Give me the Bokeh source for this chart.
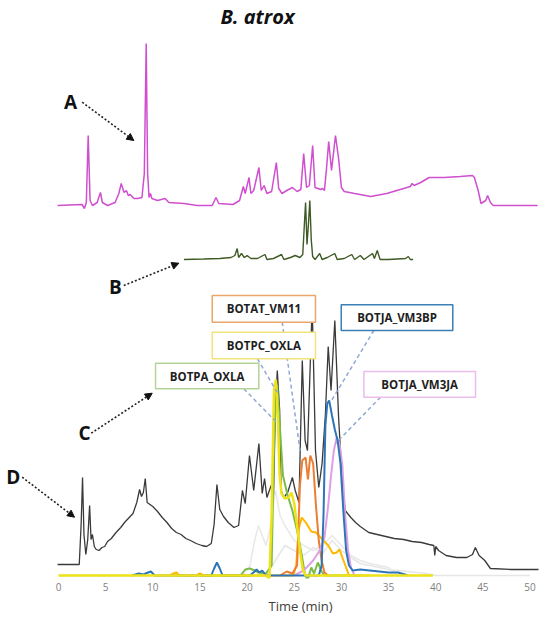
from bokeh.plotting import figure
from bokeh.models import Range1d, FixedTicker, Label, Arrow, NormalHead, ColumnDataSource, Title
from bokeh.core.properties import value
from bokeh.embed import file_html
from bokeh.resources import INLINE

# ---------------- data (time in min, intensity in arbitrary units) ----------------
tick_values = [0, 5, 10, 15, 20, 25, 30, 35, 40, 45, 50]

# A: magenta chromatogram
a_time = [-0.1, 2.5, 2.75, 2.95, 3.15, 3.35, 3.6, 4.1, 4.45, 4.65, 5.2, 6.0, 6.4, 6.65, 6.95, 7.2, 7.4, 7.6, 8.0, 8.4,
          8.85, 9.1, 9.3, 9.45, 9.6, 9.75, 9.9, 10.5, 11.3, 11.7, 13.3, 14.7, 16.3, 16.7, 17.0, 18.5, 19.2, 19.6, 19.8,
          20.2, 20.4, 20.7, 21.25, 21.5, 21.8, 22.1, 22.6, 23.1, 23.35, 23.7, 24.2, 24.8, 25.3, 25.7, 26.0, 26.3, 26.6,
          26.95, 27.2, 27.8, 28.0, 28.2, 28.4, 28.65, 28.95, 29.37, 29.7, 30.0, 30.3, 31.4, 33.1, 34.8, 36.6, 37.3,
          37.5, 37.7, 38.4, 39.3, 40.9, 42.6, 43.9, 44.1, 44.5, 44.8, 45.3, 45.5, 45.8, 46.1, 50.8]
a_int = [0, 1, -3, 3, 70, 5, 0, 3, 13, 3, 0, 3, 12, 22, 13, 15, 10, 11, 7, 7,
         8, 32, 162, 32, 8, 12, 7, 5, 7, 3, 2, 0, 0, 8, 2, 1, 5, 19, 12,
         28, 12, 15, 38, 15, 20, 12, 14, 43, 17, 12, 15, 18, 14, 16, 52, 18, 20,
         60, 18, 16, 17, 15, 35, 64, 35, 70, 47, 18, 14, 12, 9, 12, 17, 19,
         22, 20, 23, 28, 28, 29, 30, 28, 15, 2, 5, 10, 3, 0, 0]

# B: dark green chromatogram
b_time = [13.3, 15.4, 17.1, 18.3, 18.7, 18.95, 19.1, 19.4, 19.7, 20.0, 20.4, 21.1, 21.9, 22.1, 22.8, 23.65, 23.9,
          24.6, 25.1, 25.6, 25.9, 26.1, 26.2, 26.35, 26.5, 26.65, 26.8, 26.95, 27.2, 27.7, 27.95, 28.5, 29.3, 29.55,
          30.3, 31.1, 31.4, 32.0, 32.4, 33.3, 33.5, 33.8, 34.1, 35.0, 36.8, 37.1, 37.3, 37.6]
b_int = [0, 0.5, 1, 2, 4, 11, 2, 6, 2, 4, 1, 1, 5, 0, 1, 5, 0,
         2, 4, 2, 5, 40, 57, 15, 35, 59, 20, 3, 0, 6, 0, 2, 6, 0,
         1, 5, 0, 4, 0, 6, 1, 9, 0, 0, 1, 3, 0, 0]

# D: black chromatogram
d_time = [-0.1, 2.2, 2.4, 2.55, 2.7, 2.9, 3.1, 3.3, 3.45, 3.6, 3.8, 4.0, 4.3, 4.6, 4.9, 5.2, 5.6, 6.1, 6.6, 7.0,
          7.4, 7.9, 8.3, 8.6, 8.8, 9.0, 9.2, 9.4, 9.7, 10.0, 10.5, 11.0, 11.5, 12.0, 12.5, 13.0, 13.5, 14.0, 14.6,
          15.2, 15.7, 16.2, 16.5, 16.8, 17.1, 17.5, 18.0, 18.6, 19.1, 19.5, 19.8, 20.25, 20.7, 21.25, 21.6, 21.85,
          22.1, 22.55, 22.8, 23.0, 23.2, 23.45, 23.6, 23.9, 24.3, 24.8, 25.1, 25.5, 25.85, 26.15, 26.4, 26.9, 27.25,
          27.6, 27.95, 28.3, 28.6, 28.9, 29.3, 29.7, 30.1, 30.4, 31.0, 31.5, 32.0, 32.9, 33.8, 34.7, 35.6, 36.6,
          37.5, 38.5, 39.3, 39.8, 39.9, 40.0, 40.3, 41.1, 42.2, 43.3, 43.9, 44.2, 44.6, 45.2, 45.8, 48.0, 50.9]
d_int = [0, 0, 40, 87, 30, 10, 25, 59, 25, 30, 18, 15, 14, 17, 18, 23, 26, 32, 37, 42,
         46, 51, 62, 75, 68, 72, 86, 62, 60, 58, 53, 47, 42, 36, 32, 30, 26, 24, 21,
         19, 18, 21, 40, 80, 55, 48, 42, 37, 39, 74, 61, 109, 74, 121, 71, 86,
         67, 79, 70, 157, 194, 154, 74, 67, 72, 87, 74, 62, 204, 124, 114, 260, 114,
         77, 101, 150, 218, 174, 244, 147, 81, 54, 47, 42, 38, 32, 30, 28, 26, 25,
         23, 22, 20, 19, 9, 18, 14, 9, 7, 7, 10, 17, 9, 4, -4, -5, -5]

# C: individual protein traces
yellow_time = [0, 22.1, 22.35, 22.6, 22.85, 23.05, 23.25, 23.45, 23.65, 24.0, 24.4, 24.7, 25.0, 25.3, 25.6, 25.9, 26.2, 39.7]
yellow_int = [0, 0, -6, 60, 185, 196, 160, 100, 82, 77, 78, 83, 72, 50, 25, 6, 0, 0]

green_time = [15.0, 19.3, 19.8, 20.3, 20.8, 21.2, 22.0, 22.6, 22.9, 23.2, 23.4, 23.8, 24.3, 24.8, 25.3, 25.8, 26.1,
              26.4, 26.8, 27.1, 27.5, 27.9, 28.2, 32.0]
green_int = [0, 0, 6, 7, 5, 3, 2, 10, 150, 190, 160, 100, 80, 65, 45, 20, 3,
             -5, 8, 2, 13, 4, 0, 0]

orange_time = [23.5, 24.2, 24.8, 25.3, 25.6, 25.85, 26.2, 26.45, 26.7, 27.0, 27.3, 27.6, 27.9, 28.2, 28.6]
orange_int = [0, 4, 2, 10, 90, 115, 118, 96, 120, 112, 70, 35, 15, 3, 0]

gold_time = [11.8, 12.2, 12.5, 12.8, 14.6, 15.0, 15.4, 24.9, 25.2, 25.5, 25.8, 26.3, 26.8, 27.3, 27.9, 28.6, 29.1,
             29.5, 29.8, 30.1, 30.5, 30.8, 33.0]
gold_int = [0, 2, 3, 0, 0, 2, 0, 0, 10, 48, 58, 52, 44, 43, 37, 30, 22,
            23, 26, 18, 8, 0, 0]

blue_time = [7.8, 8.5, 9.0, 9.5, 9.8, 10.2, 16.2, 16.5, 16.8, 17.1, 17.4, 20.3, 20.8, 21.0, 21.3, 21.6, 22.0, 27.6,
             27.9, 28.1, 28.3, 28.5, 28.7, 29.0, 29.3, 29.6, 29.9, 30.2, 30.5, 30.8, 31.2, 32.0, 33.0, 34.0, 35.0,
             36.0, 37.1]
blue_int = [0, 2, 1, 3, 4, 0, 0, 7, 13, 7, 0, 0, 4, 6, 3, 5, 0, 0,
            10, 60, 150, 172, 175, 160, 146, 135, 112, 65, 25, 10, 5, 6, 5, 4, 3,
            3, 0]

pink_time = [25.0, 26.0, 27.0, 27.7, 28.2, 28.6, 28.9, 29.2, 29.5, 29.8, 30.1, 30.4, 30.7, 31.0, 31.4]
pink_int = [0, 5, 15, 25, 38, 70, 100, 125, 138, 132, 110, 60, 25, 8, 0]

faint1_time = [19.5, 20.3, 20.8, 21.2, 21.6, 22.0, 22.4, 23.0, 23.5, 24.0, 25.0, 26.0, 27.0, 28.0, 29.0, 30.0, 31.0,
               32.0, 33.0, 34.0, 35.0, 36.0]
faint1_int = [0, 10, 35, 50, 40, 30, 45, 85, 60, 50, 35, 30, 25, 30, 40, 30, 20,
              15, 12, 10, 8, 0]
faint2_time = [0, 22, 23, 24, 25, 26, 27, 28, 29, 30, 31, 32, 33, 34, 35, 36, 37, 38, 39, 40, 45, 50]
faint2_int = [0, 0, 15, 30, 25, 20, 28, 22, 35, 25, 18, 12, 10, 8, 6, 5, 4, 3, 2, 0, 0, 0]

protein_labels = ["BOTAT_VM11", "BOTPC_OXLA", "BOTPA_OXLA", "BOTJA_VM3BP", "BOTJA_VM3JA"]
panel_letters = ["A", "B", "C", "D"]
title_text = "B. atrox"
x_title = "Time (min)"

# ---------------- layout constants ----------------
OFF_A = 370
OFF_B = 316
OFF_D = 11

p = figure(width=550, height=621, x_range=Range1d(-6.15, 52.17), y_range=Range1d(-3, 575),
           output_backend="svg", toolbar_location=None, title=None, y_axis_location=None,
           min_border_left=0, min_border_right=0, min_border_top=0, min_border_bottom=43)
p.outline_line_color = None
p.grid.visible = False
p.background_fill_color = "white"

ax = p.xaxis[0]
ax.ticker = FixedTicker(ticks=tick_values)
ax.axis_line_color = None
ax.major_tick_line_color = None
ax.minor_tick_line_color = None
ax.major_tick_out = 0
ax.major_tick_in = 0
ax.major_label_standoff = 4
ax.major_label_text_font = "Open Sans"
ax.major_label_text_font_size = "10px"
ax.major_label_text_color = "#808080"

p.add_layout(Title(text=x_title, align="left", offset=268, text_font="Open Sans", text_font_style="normal",
                   text_font_size="13px", text_color="#404040", standoff=2), "below")

# traces
p.line(faint2_time, faint2_int, line_color="#e6e6e6", line_width=1.5)
p.line(faint1_time, faint1_int, line_color="#e8e8e8", line_width=1.5)
p.line(a_time, [v + OFF_A for v in a_int], line_color="#cf4fcf", line_width=1.5)
p.line(b_time, [v + OFF_B for v in b_int], line_color="#3f5a25", line_width=1.4)
p.line(d_time, [v + OFF_D for v in d_int], line_color="#3a3a3a", line_width=1.3)
p.line(gold_time, gold_int, line_color="#ffb800", line_width=2)
p.line(green_time, green_int, line_color="#7cbb4a", line_width=2)
p.line(orange_time, orange_int, line_color="#ed7d31", line_width=2)
p.line(pink_time, pink_int, line_color="#dda0e6", line_width=2)
p.line(blue_time, blue_int, line_color="#2e75b6", line_width=2)
p.line(yellow_time, yellow_int, line_color="#eee21a", line_width=2.5)

# leader lines (dashed)
leaders_x0 = [23.72, 21.10, 19.65, 33.44, 34.15]
leaders_y0 = [253.3, 216.7, 186.7, 245.0, 178.3]
leaders_x1 = [25.66, 23.19, 23.12, 28.95, 29.37]
leaders_y1 = [122.0, 183.0, 153.3, 175.0, 132.0]
p.segment(leaders_x0, leaders_y0, leaders_x1, leaders_y1, line_color="#8fa9d3", line_width=1.5, line_dash="4 3")

# label boxes
box_src = ColumnDataSource(dict(
    left=[16.30, 16.30, 10.29, 29.98, 32.38],
    right=[27.25, 27.25, 21.24, 41.81, 44.22],
    top=[280.0, 243.3, 212.3, 270.7, 204.0],
    bottom=[253.3, 216.7, 186.7, 245.0, 178.3],
    color=["#eba46a", "#f2e37c", "#b3d494", "#3a7fb5", "#ebbdeb"],
    cx=[21.78, 21.78, 15.76, 35.90, 38.30],
    cy=[266.65, 230.0, 199.5, 257.85, 191.15],
    label=protein_labels,
))
p.quad(left="left", right="right", top="top", bottom="bottom", source=box_src,
       fill_color="white", line_color="color", line_width=1.5)
p.text(x="cx", y="cy", text="label", source=box_src, text_align="center", text_baseline="middle",
       text_font=value("Open Sans"), text_font_style="bold", text_font_size="11.5px", text_color="#1e1e1e")

# panel letters and arrows
letter_x = [1.27, 6.04, 2.76, -4.80]
letter_y = [473.3, 289.0, 142.3, 98.3]
for L, lx, ly in zip(panel_letters, letter_x, letter_y):
    p.add_layout(Label(x=lx, y=ly, text=L, text_align="center", text_baseline="middle",
                       text_font="Open Sans", text_font_style="bold", text_font_size="19px",
                       text_color="#111111"))
arrows = [(2.51, 473.3, 7.99, 435.0), (6.92, 290.0, 12.76, 312.3),
          (3.47, 142.3, 9.94, 182.3), (-3.85, 98.3, 1.70, 58.3)]
for xs, ys, xe, ye in arrows:
    p.add_layout(Arrow(x_start=xs, y_start=ys, x_end=xe, y_end=ye, line_color="#222222",
                       line_width=1.6, line_dash="2 2",
                       end=NormalHead(size=7, fill_color="#111111", line_color="#111111")))

# title
p.add_layout(Label(x=21.1, y=559, text=title_text, text_align="center", text_baseline="middle",
                   text_font="Open Sans", text_font_style="bold italic", text_font_size="20px",
                   text_color="#111111"))

open("out.html", "w").write(file_html(p, INLINE))
